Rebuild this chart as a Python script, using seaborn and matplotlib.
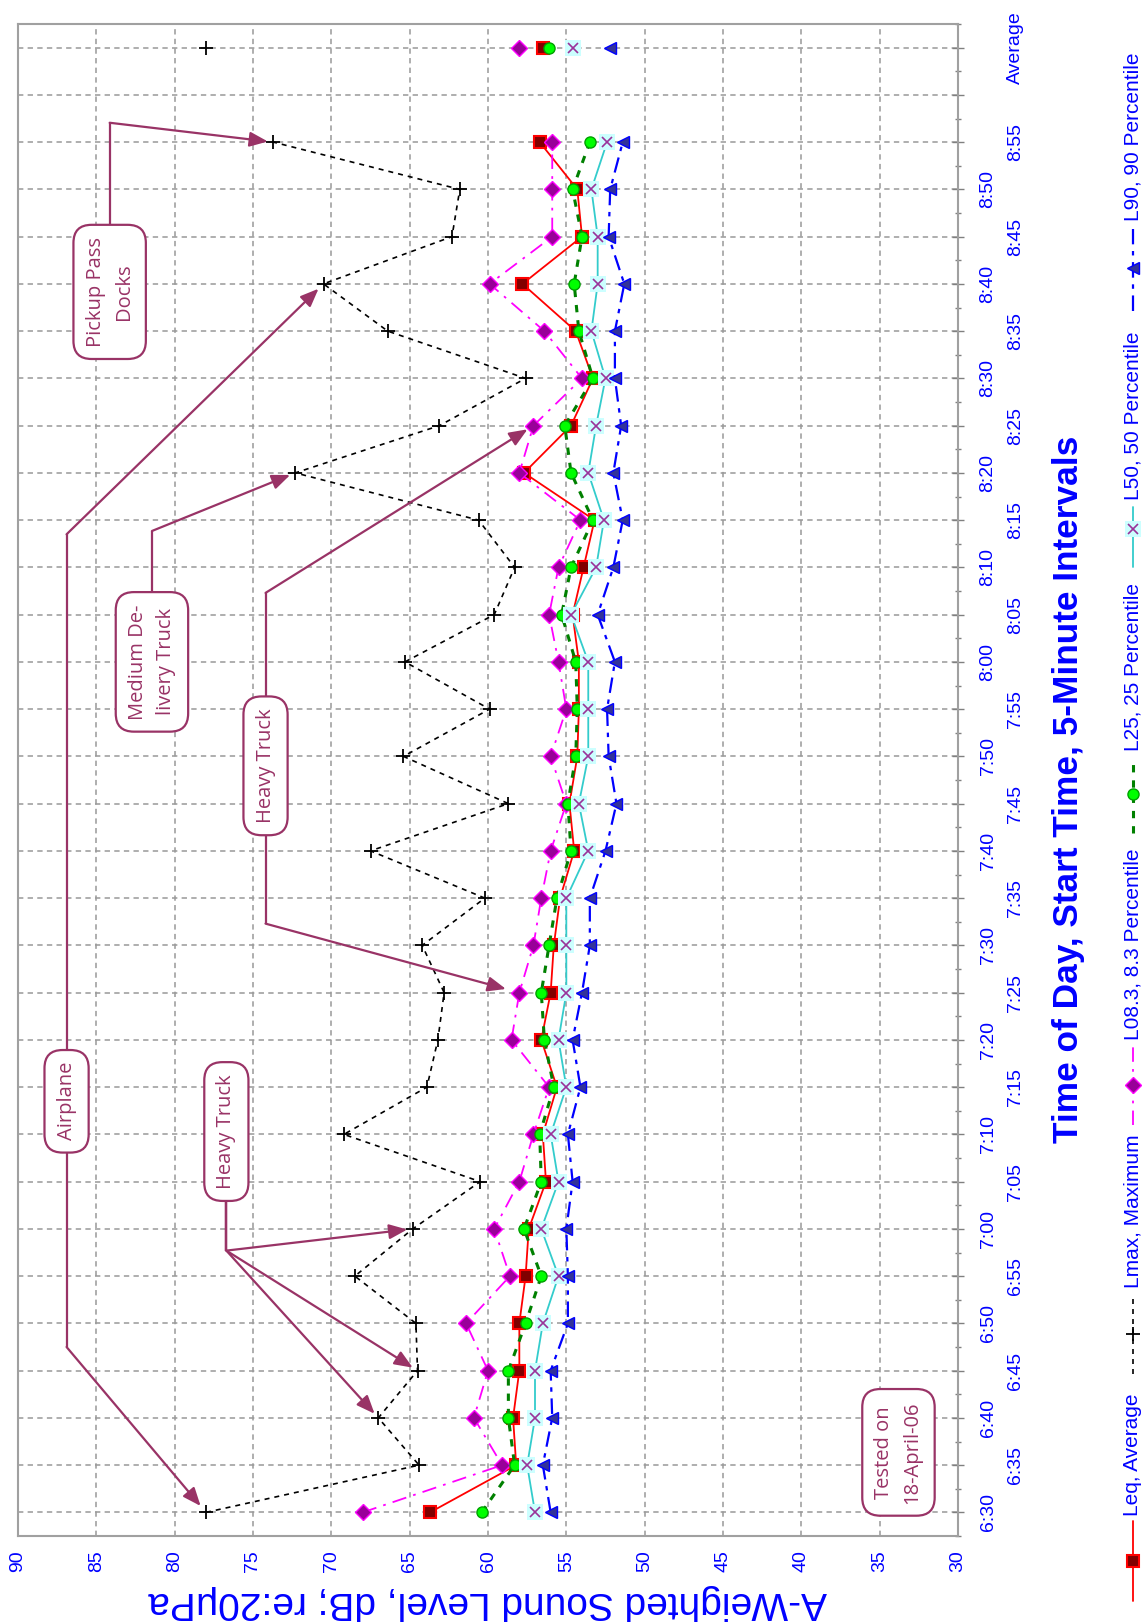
import matplotlib
matplotlib.use('Agg')
import matplotlib.pyplot as plt
from matplotlib.lines import Line2D
from matplotlib.ticker import MultipleLocator
from matplotlib import font_manager
import seaborn as sns
import pandas as pd

# 5-minute start times, then an empty slot and the overall average
times = ['6:30', '6:35', '6:40', '6:45', '6:50', '6:55', '7:00', '7:05', '7:10', '7:15',
         '7:20', '7:25', '7:30', '7:35', '7:40', '7:45', '7:50', '7:55', '8:00', '8:05',
         '8:10', '8:15', '8:20', '8:25', '8:30', '8:35', '8:40', '8:45', '8:50', '8:55']
tick_labels = times + ['', 'Average']
slots = list(range(len(times)))
avg_slot = 31

leq = [63.7, 58.2, 58.4, 58.0, 58.0, 57.6, 57.4, 56.3, 56.5, 55.6,
       56.6, 56.0, 55.8, 55.4, 54.5, 54.8, 54.3, 54.2, 54.2, 54.6,
       53.9, 53.2, 57.7, 54.7, 53.3, 54.4, 57.8, 54.0, 54.3, 56.7]
lmax = [78.0, 64.4, 67.0, 64.5, 64.6, 68.5, 64.8, 60.5, 69.2, 63.9,
        63.2, 62.8, 64.2, 60.2, 67.5, 58.7, 65.4, 59.9, 65.3, 59.6,
        58.3, 60.6, 72.3, 63.1, 57.6, 66.4, 70.5, 62.3, 61.8, 73.7]
l08 = [68.0, 59.1, 60.9, 60.0, 61.4, 58.6, 59.6, 58.0, 57.1, 56.1,
       58.5, 58.0, 57.1, 56.6, 56.0, 55.0, 56.0, 55.0, 55.5, 56.1,
       55.5, 54.1, 58.0, 57.1, 54.0, 56.4, 59.9, 55.9, 55.9, 55.9]
l25 = [60.4, 58.3, 58.7, 58.7, 57.6, 56.6, 57.7, 56.6, 56.7, 55.8,
       56.4, 56.6, 56.1, 55.6, 54.7, 54.9, 54.4, 54.3, 54.4, 55.3,
       54.7, 53.3, 54.7, 55.1, 53.3, 54.2, 54.5, 54.0, 54.6, 53.5]
l50 = [57.0, 57.5, 57.0, 57.0, 56.5, 55.5, 56.6, 55.5, 56.0, 55.0,
       55.5, 55.0, 55.0, 55.0, 53.6, 54.2, 53.6, 53.6, 53.6, 54.7,
       53.1, 52.6, 53.6, 53.1, 52.5, 53.4, 53.0, 53.0, 53.4, 52.4]
l90 = [56.0, 56.5, 55.9, 56.0, 54.9, 54.9, 55.0, 54.6, 54.9, 54.1,
       54.6, 54.0, 53.5, 53.5, 52.5, 51.8, 52.3, 52.4, 51.9, 53.0,
       52.0, 51.4, 52.0, 51.5, 51.9, 51.9, 51.3, 52.3, 52.2, 51.4]
averages = {'Leq': 56.5, 'Lmax': 78.0, 'L08': 58.0, 'L25': 56.1, 'L50': 54.6, 'L90': 52.2}

names = ['Leq, Average', 'Lmax, Maximum', 'L08.3, 8.3 Percentile',
         'L25, 25 Percentile', 'L50, 50 Percentile', 'L90, 90 Percentile']

styles = [
    dict(color='#ff0000', lw=1.3, ls='-', marker='s', ms=8, mfc='#800000', mec='#ff0000', mew=1.5),
    dict(color='black', lw=1.2, ls=(0, (3, 3)), marker='+', ms=10, mfc='none', mec='black', mew=1.3),
    dict(color='#ff00ff', lw=1.3, ls=(0, (8, 4, 1.5, 4)), marker='D', ms=8, mfc='#990099', mec='#ff00ff', mew=1),
    dict(color='#008000', lw=2.2, ls=(0, (2.4, 2.6)), marker='o', ms=8, mfc='#00ff00', mec='#00a000', mew=1),
    dict(color='#33cccc', lw=1.3, ls='-', marker='s', ms=11, mfc='#ccffff', mec='#ccffff', mew=0,
         overlay=dict(marker='x', ms=7, color='#993399', mew=1.2)),
    dict(color='#0000ff', lw=1.6, ls=(0, (7, 3, 2, 3)), marker='<', ms=9, mfc='#333399', mec='#0000ff', mew=1),
]
series = list(zip(names, [leq, lmax, l08, l25, l50, l90],
                  [averages[k] for k in ['Leq', 'Lmax', 'L08', 'L25', 'L50', 'L90']], styles))

sns.set_style('white')
plt.rcParams['font.family'] = ['Liberation Sans', 'DejaVu Sans']

installed = {f.name for f in font_manager.fontManager.ttflist}
narrow = 'Liberation Sans Narrow' if 'Liberation Sans Narrow' in installed else 'Liberation Sans'

W, H = 1147, 1623
fig = plt.figure(figsize=(W / 100, H / 100), dpi=100)
ax = fig.add_axes([18 / W, 1 - 1536 / H, 940 / W, 1512 / H])

blue = '#0000ff'
plum = '#993366'
grid_col = '#999999'


def draw_series(values, avg, st, z):
    main = pd.DataFrame({'dB': values, 'slot': slots})
    last = pd.DataFrame({'dB': [avg], 'slot': [avg_slot]})
    for df, ls in ((main, st['ls']), (last, 'none')):
        sns.lineplot(data=df, x='dB', y='slot', orient='y', sort=False, errorbar=None, ax=ax,
                     color=st['color'], linewidth=st['lw'], linestyle=ls,
                     marker=st['marker'], markersize=st['ms'], markerfacecolor=st['mfc'],
                     markeredgecolor=st['mec'], markeredgewidth=st['mew'], zorder=z)
        if 'overlay' in st:
            ov = st['overlay']
            sns.lineplot(data=df, x='dB', y='slot', orient='y', sort=False, errorbar=None, ax=ax,
                         color=ov['color'], linestyle='none', marker=ov['marker'],
                         markersize=ov['ms'], markeredgecolor=ov['color'],
                         markeredgewidth=ov['mew'], zorder=z + 0.1)


for k, (name, vals, avg, st) in enumerate(series):
    draw_series(vals, avg, st, 3 + k * 0.2)

# axes, grid, ticks
ax.set_xlim(90, 30)
ax.set_ylim(-0.5, 31.5)
ax.set_xticks(range(90, 29, -5))
ax.set_xticklabels([str(v) for v in range(90, 29, -5)])
ax.xaxis.set_minor_locator(MultipleLocator(1))
ax.set_yticks(range(32))
ax.set_yticklabels(tick_labels)
ax.yaxis.set_minor_locator(MultipleLocator(0.5))
ax.set_axisbelow(True)
ax.grid(True, which='major', color=grid_col, linestyle=(0, (3.5, 2.8)), linewidth=1.1)
for sp in ax.spines.values():
    sp.set_color('#a0a0a0')
    sp.set_linewidth(1.5)

ax.tick_params(axis='x', which='major', direction='inout', length=9, width=1, color='#808080',
               labelrotation=90, labelsize=14, labelcolor=blue, pad=6)
ax.tick_params(axis='x', which='minor', direction='inout', length=5, width=1, color='#808080')
ax.tick_params(axis='y', which='both', left=False, right=True, labelleft=False, labelright=True,
               direction='inout', width=1, color='#808080')
ax.tick_params(axis='y', which='major', length=9, labelrotation=90, labelsize=14, labelcolor=blue)
ax.tick_params(axis='y', which='minor', length=5)
for i, t in enumerate(ax.yaxis.get_major_ticks()):
    t.label2.set_va('center')
    t.set_pad(11 if i % 2 == 0 else 31)

xl = ax.set_xlabel('A-Weighted Sound Level, dB; re:20\u03bcPa', color=blue, rotation=180,
                   fontsize=26, va='center', ha='center')
ax.xaxis.set_label_coords(0.5, -(1602 - 1536) / 1512)
yl = ax.set_ylabel('Time of Day, Start Time, 5-Minute Intervals', color=blue, rotation=90,
                   fontsize=26, fontweight='bold', family=narrow, va='center', ha='center')
ax.yaxis.set_label_position('right')
ax.yaxis.set_label_coords((1052 - 18) / 940, (1536 - 789) / 1512)

# annotations: box centre, then (elbow slot, target, shrink) legs
notes = [
    ('Airplane', (86.9, 8.7), [(3.5, (lmax[0], 0), 6), (20.7, (lmax[26], 26), 5)]),
    ('Heavy Truck', (76.7, 8.06), [(5.54, (lmax[6], 6), 4), (5.54, (lmax[3], 3), 4),
                                   (5.54, (lmax[2], 2), 4)]),
    ('Medium De-\nlivery Truck', (81.45, 18.0), [(20.77, (lmax[22], 22), 4)]),
    ('Heavy Truck', (74.2, 15.8), [(19.46, (l08[23], 23), 5), (12.46, (l08[11], 11), 10)]),
    ('Pickup Pass\nDocks', (84.15, 25.83), [(29.41, (lmax[29], 29), 4)]),
    ('Tested on\n18-April-06', (33.8, 1.27), []),
]
for text, (bx, by), legs in notes:
    ax.text(bx, by, text, rotation=90, ha='center', va='center', multialignment='center',
            color=plum, fontsize=14.5, linespacing=1.55, family=['Open Sans', 'DejaVu Sans'],
            zorder=8,
            bbox=dict(boxstyle='round,pad=0.6,rounding_size=0.9', fc='white', ec=plum, lw=1.6))
    for ey, target, sb in legs:
        ax.plot([bx, bx], [by, ey], color=plum, lw=1.6, zorder=7, solid_capstyle='butt')
        ax.annotate('', xy=target, xytext=(bx, ey), zorder=7,
                    arrowprops=dict(arrowstyle='-|>,head_length=1.1,head_width=0.45',
                                    mutation_scale=10, color=plum, lw=1.6,
                                    shrinkA=0, shrinkB=sb))

renderer = fig.canvas.get_renderer()


def fit_text(t, target_px):
    for _ in range(3):
        bb = t.get_window_extent(renderer)
        t.set_fontsize(t.get_fontsize() * target_px / max(bb.width, bb.height))


fit_text(xl, 680)
fit_text(yl, 710)

# legend, drawn rotated along the right edge (pixel rows from the top of the figure)
lx = 1133 / W
key_lines = [(1601, 1521), (1374, 1295), (1125, 1045), (833, 758), (567, 507), (311, 229)]
key_marks = [1561, 1334, 1085, 794, 529, 268]
text_starts = [1516, 1288, 1040, 751, 500, 221]
for (name, vals, avg, st), (ya, yb), ym, yt in zip(series, key_lines, key_marks, text_starts):
    fig.add_artist(Line2D([lx, lx], [1 - ya / H, 1 - yb / H], transform=fig.transFigure,
                          color=st['color'], lw=st['lw'], linestyle=st['ls']))
    fig.add_artist(Line2D([lx], [1 - ym / H], transform=fig.transFigure, marker=st['marker'],
                          markersize=st['ms'], markerfacecolor=st['mfc'],
                          markeredgecolor=st['mec'], markeredgewidth=st['mew'], linestyle='none'))
    if 'overlay' in st:
        ov = st['overlay']
        fig.add_artist(Line2D([lx], [1 - ym / H], transform=fig.transFigure, marker=ov['marker'],
                              markersize=ov['ms'], markeredgecolor=ov['color'],
                              markeredgewidth=ov['mew'], linestyle='none'))
    fig.text(lx, 1 - yt / H, name, rotation=90, rotation_mode='anchor',
             ha='left', va='center', color=blue, fontsize=15)

fig.savefig('out.png', dpi=100)
